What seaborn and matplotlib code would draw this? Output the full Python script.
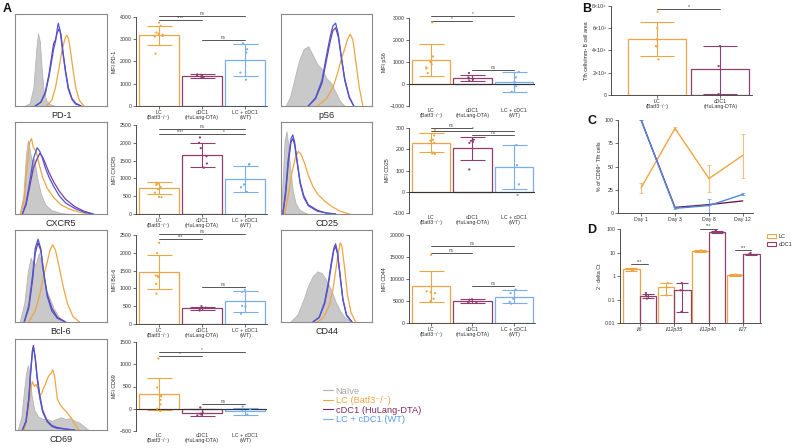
import numpy as np
import pandas as pd
import matplotlib
matplotlib.use("Agg")
import matplotlib.pyplot as plt
import seaborn as sns
from matplotlib.lines import Line2D
from matplotlib.patches import Patch

sns.set_theme(style="ticks")
plt.rcParams['font.family'] = ['Liberation Sans', 'DejaVu Sans']
plt.rcParams['mathtext.fontset'] = 'custom'
plt.rcParams['mathtext.rm'] = 'Liberation Sans'
plt.rcParams['mathtext.it'] = 'Liberation Sans:italic'

# ---------------- data ----------------
groups = ["LC", "cDC1", "WT"]
group_labels = ["LC\n(Batf3⁻/⁻)", "cDC1\n(HuLang-DTA)", "LC + cDC1\n(WT)"]
legend_labels = ["Naïve", "LC (Batf3⁻/⁻)", "cDC1 (HuLang-DTA)", "LC + cDC1 (WT)"]

# PD-1
pd1_mean = [3170, 1350, 2080]
pd1_lo = [2760, 1270, 1360]
pd1_hi = [3580, 1430, 2790]
pd1_lc = [3750, 3600, 3300, 3250, 3200, 3150, 3120, 2350]
pd1_cdc1 = [1420, 1400, 1380, 1300, 1270]
pd1_wt = [2820, 2550, 2400, 1500, 1180]
pd1_sig = [(0, 2, 4050, "ns"), (0, 1, 3850, "****"), (1, 2, 2950, "ns")]

# CXCR5
cxcr5_mean = [720, 1660, 980]
cxcr5_lo = [555, 1310, 610]
cxcr5_hi = [885, 2000, 1360]
cxcr5_lc = [880, 850, 820, 760, 700, 600, 480, 470]
cxcr5_cdc1 = [2150, 2000, 1850, 1620, 1420, 1300]
cxcr5_wt = [1400, 1390, 830, 750, 620]
cxcr5_sig = [(0, 2, 2380, "ns"), (0, 1, 2250, "****"), (1, 2, 2250, "*")]

# Bcl-6
bcl6_mean = [1450, 440, 640]
bcl6_lo = [990, 390, 340]
bcl6_hi = [1930, 490, 930]
bcl6_lc = [2280, 1990, 1360, 1350, 1320, 1130, 850]
bcl6_cdc1 = [500, 460, 440, 420, 380]
bcl6_wt = [960, 900, 510, 490, 290]
bcl6_sig = [(0, 2, 2520, "ns"), (0, 1, 2400, "***"), (1, 2, 1040, "ns")]

# CD69
cd69_mean = [330, -100, -60]
cd69_lo = [-30, -160, -130]
cd69_hi = [690, -10, 10]
cd69_lc = [1130, 480, 300, 280, 200, 100, 0, -50]
cd69_cdc1 = [30, -80, -110, -130, -150]
cd69_wt = [50, -10, -50, -130]
cd69_sig = [(0, 2, 1275, "*"), (0, 1, 1190, "*"), (1, 2, 100, "ns")]

# pS6
ps6_mean = [1080, 280, 80]
ps6_lo = [350, 120, -380]
ps6_hi = [1800, 420, 550]
ps6_lc = [2800, 1250, 1000, 900, 750, 700, 500]
ps6_cdc1 = [500, 300, 250, 200, 150]
ps6_wt = [550, 300, 100, -100, -350]
ps6_sig = [(0, 2, 3090, "*"), (0, 1, 2880, "*"), (1, 2, 640, "ns")]

# CD25
cd25_mean = [230, 205, 115]
cd25_lo = [185, 148, 12]
cd25_hi = [275, 260, 222]
cd25_lc = [290, 265, 245, 240, 230, 185, 180, 178]
cd25_cdc1 = [245, 240, 235, 230, 105]
cd25_wt = [220, 125, 35, -15]
cd25_sig = [(0, 1, 300, "ns"), (0, 2, 286, "*"), (1, 2, 267, "ns")]

# CD44
cd44_mean = [8300, 5000, 6000]
cd44_lo = [4800, 4500, 4500]
cd44_hi = [11800, 5500, 7500]
cd44_lc = [15500, 7200, 7000, 6800, 5500, 5000]
cd44_cdc1 = [5400, 5300, 4900, 4700, 4600]
cd44_wt = [7600, 6800, 5500, 4800, 4400]
cd44_sig = [(0, 2, 17500, "ns"), (0, 1, 16000, "ns"), (1, 2, 8400, "ns")]

# histogram curves (x: fluorescence units 0-100, y: % of max)
pd1_naive = ([10, 16, 20, 23, 25, 27, 29, 31, 34, 38, 44], [0, 3, 20, 60, 79, 70, 40, 18, 6, 2, 0])
pd1_h_lc = ([34, 40, 44, 48, 51, 54, 56, 58, 60, 63, 66, 70, 75], [0, 6, 20, 42, 60, 72, 77, 74, 62, 40, 20, 6, 0])
pd1_h_cdc1 = ([22, 28, 33, 37, 40, 42, 44, 46, 48, 50, 52, 55, 58, 62, 66, 72], [0, 4, 15, 35, 55, 68, 72, 80, 84, 78, 60, 38, 20, 8, 3, 0])
pd1_h_wt = ([22, 28, 33, 37, 40, 42, 44, 46, 47, 49, 52, 55, 58, 62, 66, 72], [0, 4, 14, 32, 50, 62, 70, 84, 90, 82, 58, 36, 18, 7, 2, 0])

cxcr5_naive = ([5, 9, 12, 14, 16, 18, 21, 24, 28, 33, 40, 50, 60], [0, 20, 65, 80, 70, 58, 60, 40, 22, 10, 4, 1, 0])
cxcr5_h_lc = ([6, 10, 13, 16, 18, 20, 23, 26, 30, 35, 42, 50, 60, 70, 80], [0, 15, 50, 78, 82, 72, 68, 55, 40, 28, 18, 10, 5, 2, 0])
cxcr5_h_cdc1 = ([8, 12, 16, 20, 24, 27, 30, 33, 37, 42, 48, 55, 65, 75, 85], [0, 10, 30, 50, 60, 66, 62, 55, 45, 35, 25, 16, 8, 3, 0])
cxcr5_h_wt = ([8, 12, 16, 20, 24, 27, 30, 33, 37, 42, 48, 55, 65, 75, 85], [0, 12, 35, 60, 72, 68, 60, 50, 40, 30, 20, 12, 6, 2, 0])

bcl6_naive = ([5, 10, 14, 17, 20, 23, 26, 30, 34, 38, 42, 48, 55], [0, 20, 55, 70, 60, 65, 75, 55, 35, 25, 15, 5, 0])
bcl6_h_lc = ([15, 22, 27, 31, 35, 38, 41, 44, 48, 52, 57, 63, 70], [0, 12, 30, 50, 65, 78, 84, 78, 60, 40, 20, 6, 0])
bcl6_h_cdc1 = ([10, 15, 19, 22, 25, 28, 31, 35, 40, 46, 55], [0, 15, 45, 75, 86, 78, 55, 30, 15, 5, 0])
bcl6_h_wt = ([10, 15, 19, 22, 25, 28, 31, 35, 40, 46, 55], [0, 18, 50, 80, 90, 80, 55, 28, 12, 4, 0])

cd69_naive = ([3, 7, 10, 12, 14, 16, 18, 21, 25, 30, 35, 40, 45, 50, 55, 60, 65, 70, 75, 80],
              [0, 15, 45, 62, 71, 60, 38, 22, 15, 12, 12, 10, 12, 14, 12, 13, 10, 8, 4, 0])
cd69_h_lc = ([10, 14, 17, 19, 21, 23, 25, 27, 29, 31, 33, 35, 37, 39, 41, 43, 46, 49, 52, 56, 62, 66, 70],
             [0, 20, 45, 53, 48, 50, 45, 38, 40, 46, 50, 56, 60, 62, 66, 60, 34, 28, 24, 20, 12, 5, 0])
cd69_h_cdc1 = ([8, 12, 15, 17, 19, 20, 22, 24, 27, 30, 35, 40, 45, 55, 65], [0, 10, 35, 65, 88, 93, 80, 60, 38, 22, 10, 5, 3, 1, 0])
cd69_h_wt = ([8, 12, 15, 17, 19, 20, 22, 24, 27, 30, 35, 40, 45, 55, 65], [0, 9, 33, 62, 86, 91, 78, 57, 35, 20, 9, 4, 2, 1, 0])

ps6_naive = ([5, 10, 15, 20, 25, 30, 35, 40, 45, 50, 55, 60, 65, 70], [0, 10, 30, 50, 62, 65, 55, 45, 40, 30, 25, 15, 5, 0])
ps6_h_lc = ([40, 50, 57, 62, 66, 70, 73, 76, 79, 82, 86, 90], [0, 8, 20, 35, 50, 62, 72, 78, 72, 50, 20, 0])
ps6_h_cdc1 = ([30, 38, 45, 50, 54, 57, 60, 63, 66, 70, 75, 80], [0, 8, 25, 50, 70, 82, 85, 75, 55, 30, 10, 0])
ps6_h_wt = ([30, 38, 45, 50, 54, 57, 60, 63, 66, 70, 75, 80], [0, 9, 28, 55, 75, 87, 90, 78, 55, 28, 9, 0])

cd25_naive = ([0, 2, 4, 6, 8, 10, 13, 16, 20, 25, 30], [0, 40, 80, 90, 75, 50, 25, 12, 5, 2, 0])
cd25_h_lc = ([4, 8, 12, 16, 19, 22, 26, 30, 35, 40, 48, 56, 65, 75], [0, 20, 45, 62, 68, 65, 55, 42, 30, 22, 14, 8, 3, 0])
cd25_h_cdc1 = ([2, 5, 8, 11, 13, 15, 18, 21, 25, 30, 40, 50, 60], [0, 20, 55, 78, 82, 75, 55, 35, 20, 10, 4, 1, 0])
cd25_h_wt = ([2, 5, 8, 11, 13, 15, 18, 21, 25, 30, 40, 50, 60], [0, 25, 60, 82, 86, 78, 55, 33, 18, 9, 3, 1, 0])

cd44_naive = ([10, 18, 25, 30, 35, 40, 45, 50, 55, 60, 65, 70, 78], [0, 8, 25, 40, 50, 55, 53, 45, 35, 22, 12, 5, 0])
cd44_h_lc = ([40, 47, 53, 57, 60, 63, 65, 67, 70, 73, 77, 82], [0, 5, 18, 35, 55, 75, 86, 82, 58, 30, 10, 0])
cd44_h_cdc1 = ([35, 42, 48, 52, 55, 58, 60, 62, 65, 68, 72, 78], [0, 5, 20, 40, 60, 78, 82, 75, 50, 25, 8, 0])
cd44_h_wt = ([35, 42, 48, 52, 55, 58, 60, 62, 65, 68, 72, 78], [0, 5, 22, 43, 63, 80, 85, 76, 50, 24, 7, 0])

# Panel B
b_groups = ["LC", "cDC1"]
b_labels = ["LC\n(Batf3⁻/⁻)", "cDC1\n(HuLang-DTA)"]
b_mean = [50500, 23000]
b_lo = [35500, 800]
b_hi = [65500, 44000]
b_lc = [75000, 60000, 50000, 44000, 43500, 32000]
b_cdc1 = [44000, 26000, 600, 500]
b_yticks = [0, 20000, 40000, 60000, 80000]
b_yticklabels = ["0", "2×10⁴", "4×10⁴", "6×10⁴", "8×10⁴"]

# Panel C
c_days = ["Day 1", "Day 3", "Day 8", "Day 12"]
c_lc = [27, 91, 37, 62]
c_lc_lo = [22, 89, 23, 38]
c_lc_hi = [32, 93, 52, 85]
c_cdc1 = [100, 6, 9, 13]
c_wt = [100, 5, 8, 20]
c_wt_lo = [100, 4, 0, 19]
c_wt_hi = [100, 6, 15, 21]

# Panel D
d_genes = ["Il6", "Il12p35", "Il12p40", "Il27"]
d_lc = [1.9, 0.33, 11.5, 1.1]
d_lc_lo = [1.7, 0.15, 10.8, 1.02]
d_lc_hi = [2.1, 0.5, 12.3, 1.18]
d_cdc1 = [0.14, 0.25, 75, 8.5]
d_cdc1_lo = [0.12, 0.03, 70, 8.0]
d_cdc1_hi = [0.17, 0.5, 82, 9.0]
d_lc_pts = [[2.0, 1.85, 1.75], [0.5, 0.33, 0.15], [12.3, 11.4, 10.9], [1.15, 1.1, 1.05]]
d_cdc1_pts = [[0.19, 0.15, 0.11], [0.5, 0.25, 0.03], [85, 78, 70], [9.6, 8.6, 8.0]]
d_sig = [(0, 3.3, "***"), (2, 105, "***"), (3, 13, "***")]

# ---------------- style ----------------
ORANGE = "#EFA543"
PURPLE = "#7D2A5C"
BLUE = "#7AAEEB"
H_PURPLE = "#7A3C96"
H_BLUE = "#4A58D8"
GRAY_FILL = "#C9C9C9"
bar_pal = [ORANGE, "#8E3F6E", BLUE]
SPINE = "#333333"
TFS = 3.8

W, H = 798, 448
fig = plt.figure(figsize=(W / 100, H / 100), dpi=100)


def ax_px(x0, y0, x1, y1):
    return fig.add_axes([x0 / W, 1 - y1 / H, (x1 - x0) / W, (y1 - y0) / H])


def style_axes(ax):
    sns.despine(ax=ax)
    for s in ("left", "bottom"):
        ax.spines[s].set_color(SPINE)
        ax.spines[s].set_linewidth(0.6)
    ax.tick_params(axis="both", labelsize=TFS, length=2, width=0.5, pad=1.2, colors=SPINE)


def hist_panel(rect, naive, lc, cdc1, wt, label):
    ax = ax_px(*rect)
    ax.fill_between(naive[0], naive[1], color=GRAY_FILL, lw=0.6, edgecolor="#B5B5B5")
    for (xs, ys), col in [(lc, ORANGE), (cdc1, H_PURPLE), (wt, H_BLUE)]:
        sns.lineplot(x=xs, y=ys, color=col, lw=0.9, ax=ax, sort=False)
    ax.set_xlim(0, 100)
    ax.set_ylim(0, 100)
    ax.set_xticks([])
    ax.set_yticks([])
    ax.set_xlabel("")
    ax.set_ylabel("")
    for s in ax.spines.values():
        s.set_color("#8A8A8A")
        s.set_linewidth(0.8)
    ax.text(0.5, -0.05, label, transform=ax.transAxes, ha="center", va="top", fontsize=6.5, color="#222222")


def bar_panel(rect, mean, lo, hi, lc, cdc1, wt, sig, ylim, yticks, ylabel, zero=False):
    ax = ax_px(*rect)
    df = pd.DataFrame({"g": groups, "v": mean})
    sns.barplot(data=df, x="g", y="v", hue="g", palette=bar_pal, fill=False, width=0.92,
                linewidth=0.9, ax=ax, legend=False, order=groups, errorbar=None)
    for i, (m, l, h) in enumerate(zip(mean, lo, hi)):
        ax.errorbar(i, m, yerr=[[m - l], [h - m]], color=bar_pal[i], capsize=9, lw=0.8, capthick=0.8)
    pts = pd.DataFrame({"g": ["LC"] * len(lc) + ["cDC1"] * len(cdc1) + ["WT"] * len(wt),
                        "v": list(lc) + list(cdc1) + list(wt)})
    sns.stripplot(data=pts, x="g", y="v", hue="g", palette=bar_pal, order=groups, size=1.6,
                  jitter=0.12, ax=ax, legend=False, linewidth=0)
    for i, j, y, lab in sig:
        ax.plot([i, j], [y, y], color="#555555", lw=0.7, clip_on=False)
        ax.text((i + j) / 2, y, lab, ha="center", va="bottom", fontsize=3.3, color="#444444")
    ax.set_xlim(-0.52, 2.5)
    ax.set_ylim(*ylim)
    ax.set_yticks(yticks)
    ax.set_xticks(range(3))
    ax.set_xticklabels(group_labels, linespacing=1.0)
    ax.set_xlabel("")
    ax.set_ylabel(ylabel, fontsize=TFS, labelpad=2)
    style_axes(ax)
    if zero:
        ax.axhline(0, color=SPINE, lw=0.8)
        ax.spines["bottom"].set_visible(False)
        ax.tick_params(axis="x", length=0)
    return ax


np.random.seed(3)

# histograms
HX1 = (15, 107)
HX2 = (281, 372)
hist_panel((HX1[0], 14, HX1[1], 106), pd1_naive, pd1_h_lc, pd1_h_cdc1, pd1_h_wt, "PD-1")
hist_panel((HX1[0], 122, HX1[1], 214), cxcr5_naive, cxcr5_h_lc, cxcr5_h_cdc1, cxcr5_h_wt, "CXCR5")
hist_panel((HX1[0], 230, HX1[1], 322), bcl6_naive, bcl6_h_lc, bcl6_h_cdc1, bcl6_h_wt, "Bcl-6")
hist_panel((HX1[0], 339, HX1[1], 430), cd69_naive, cd69_h_lc, cd69_h_cdc1, cd69_h_wt, "CD69")
hist_panel((HX2[0], 14, HX2[1], 106), ps6_naive, ps6_h_lc, ps6_h_cdc1, ps6_h_wt, "pS6")
hist_panel((HX2[0], 122, HX2[1], 214), cd25_naive, cd25_h_lc, cd25_h_cdc1, cd25_h_wt, "CD25")
hist_panel((HX2[0], 230, HX2[1], 322), cd44_naive, cd44_h_lc, cd44_h_cdc1, cd44_h_wt, "CD44")

# bar charts
bar_panel((136, 17, 267, 106), pd1_mean, pd1_lo, pd1_hi, pd1_lc, pd1_cdc1, pd1_wt, pd1_sig,
          (0, 4000), [0, 1000, 2000, 3000, 4000], "MFI PD-1")
bar_panel((136, 125, 267, 214), cxcr5_mean, cxcr5_lo, cxcr5_hi, cxcr5_lc, cxcr5_cdc1, cxcr5_wt, cxcr5_sig,
          (0, 2500), [0, 500, 1000, 1500, 2000, 2500], "MFI CXCR5")
bar_panel((136, 235, 267, 324), bcl6_mean, bcl6_lo, bcl6_hi, bcl6_lc, bcl6_cdc1, bcl6_wt, bcl6_sig,
          (0, 2500), [0, 500, 1000, 1500, 2000, 2500], "MFI Bcl-6")
bar_panel((136, 342, 267, 431), cd69_mean, cd69_lo, cd69_hi, cd69_lc, cd69_cdc1, cd69_wt, cd69_sig,
          (-500, 1500), [-500, 0, 500, 1000, 1500], "MFI CD69", zero=True)
bar_panel((409, 18, 535, 106), ps6_mean, ps6_lo, ps6_hi, ps6_lc, ps6_cdc1, ps6_wt, ps6_sig,
          (-1000, 3000), [-1000, 0, 1000, 2000, 3000], "MFI pS6", zero=True)
bar_panel((409, 128, 535, 213), cd25_mean, cd25_lo, cd25_hi, cd25_lc, cd25_cdc1, cd25_wt, cd25_sig,
          (-100, 300), [-100, 0, 100, 200, 300], "MFI CD25", zero=True)
bar_panel((409, 235, 535, 323), cd44_mean, cd44_lo, cd44_hi, cd44_lc, cd44_cdc1, cd44_wt, cd44_sig,
          (0, 20000), [0, 5000, 10000, 15000, 20000], "MFI CD44")

# Panel B
axb = ax_px(611, 6, 752, 95)
b_pal = [ORANGE, "#8E3F6E"]
sns.barplot(x=b_groups, y=b_mean, hue=b_groups, palette=b_pal, fill=False, width=0.92, linewidth=0.9,
            ax=axb, legend=False, errorbar=None)
for i, (m, l, h) in enumerate(zip(b_mean, b_lo, b_hi)):
    axb.errorbar(i, m, yerr=[[m - l], [h - m]], color=b_pal[i], capsize=12, lw=0.8, capthick=0.8)
bpts = pd.DataFrame({"g": ["LC"] * len(b_lc) + ["cDC1"] * len(b_cdc1), "v": b_lc + b_cdc1})
sns.stripplot(data=bpts, x="g", y="v", hue="g", palette=b_pal, order=b_groups, size=1.6, jitter=0.03,
              ax=axb, legend=False, linewidth=0)
axb.plot([0, 1], [77000, 77000], color="#555555", lw=0.7, clip_on=False)
axb.text(0.5, 77000, "*", ha="center", va="bottom", fontsize=4, color="#444444")
axb.set_xlim(-0.72, 1.5)
axb.set_ylim(0, 80000)
axb.set_yticks(b_yticks)
axb.set_yticklabels(b_yticklabels)
axb.set_xticks([0, 1])
axb.set_xticklabels(b_labels, linespacing=1.0)
axb.set_xlabel("")
axb.set_ylabel("Tfh cells/mm² B cell area", fontsize=TFS, labelpad=2)
style_axes(axb)

# Panel C
axc = ax_px(618, 120, 753, 213)
xc = list(range(len(c_days)))
sns.lineplot(x=xc, y=c_lc, color=ORANGE, lw=1.0, ax=axc)
sns.lineplot(x=xc, y=c_cdc1, color="#6B1F4F", lw=1.0, ax=axc)
sns.lineplot(x=xc, y=c_wt, color="#4F86E0", lw=1.0, ax=axc)
axc.errorbar(xc, c_lc, yerr=[np.subtract(c_lc, c_lc_lo), np.subtract(c_lc_hi, c_lc)], fmt="none",
             ecolor=ORANGE, elinewidth=0.8, capsize=1.5, capthick=0.6, alpha=0.7)
axc.errorbar(xc, c_wt, yerr=[np.subtract(c_wt, c_wt_lo), np.subtract(c_wt_hi, c_wt)], fmt="none",
             ecolor="#4F86E0", elinewidth=0.8, capsize=1.5, capthick=0.6, alpha=0.7)
axc.set_xlim(-0.68, 3.3)
axc.set_ylim(0, 100)
axc.set_yticks([0, 25, 50, 75, 100])
axc.set_xticks(xc)
axc.set_xticklabels(c_days)
axc.set_ylabel("% of CD69⁺ Tfh cells", fontsize=TFS, labelpad=2)
style_axes(axc)

# Panel D
axd = ax_px(620, 229, 761, 323)
ddf = pd.DataFrame({"gene": d_genes * 2, "grp": ["LC"] * 4 + ["cDC1"] * 4, "v": d_lc + d_cdc1})
d_pal = {"LC": ORANGE, "cDC1": "#8E3F6E"}
sns.barplot(data=ddf, x="gene", y="v", hue="grp", palette=d_pal, fill=False, width=0.96, linewidth=0.9,
            ax=axd, legend=False, errorbar=None, order=d_genes, hue_order=["LC", "cDC1"])
axd.set_yscale("log")
off = 0.24
for i in range(4):
    for sgn, m, l, h, col in [(-1, d_lc[i], d_lc_lo[i], d_lc_hi[i], ORANGE),
                              (1, d_cdc1[i], d_cdc1_lo[i], d_cdc1_hi[i], "#8E3F6E")]:
        axd.errorbar(i + sgn * off, m, yerr=[[m - l], [h - m]], color=col, capsize=4, lw=0.8, capthick=0.8)
dpts = pd.DataFrame({
    "gene": [g for g, p in zip(d_genes, d_lc_pts) for _ in p] + [g for g, p in zip(d_genes, d_cdc1_pts) for _ in p],
    "grp": ["LC"] * sum(len(p) for p in d_lc_pts) + ["cDC1"] * sum(len(p) for p in d_cdc1_pts),
    "v": [v for p in d_lc_pts for v in p] + [v for p in d_cdc1_pts for v in p]})
sns.stripplot(data=dpts, x="gene", y="v", hue="grp", palette=d_pal, order=d_genes, hue_order=["LC", "cDC1"],
              dodge=True, size=1.6, jitter=0.05, ax=axd, legend=False, linewidth=0)
for i, y, lab in d_sig:
    axd.plot([i - off, i + off], [y, y], color="#555555", lw=0.7, clip_on=False)
    axd.text(i, y, lab, ha="center", va="bottom", fontsize=3.3, color="#444444")
axd.set_ylim(0.01, 100)
axd.set_yticks([0.01, 0.1, 1, 10, 100])
axd.set_yticklabels(["0.01", "0.1", "1", "10", "100"])
axd.minorticks_off()
axd.set_xlim(-0.57, 3.52)
axd.set_xticks(range(4))
axd.set_xticklabels(d_genes, fontstyle="italic")
axd.set_xlabel("")
axd.set_ylabel("2⁻ delta Ct", fontsize=TFS, labelpad=2)
style_axes(axd)
fig.legend(handles=[Patch(facecolor="white", edgecolor=ORANGE, lw=0.8, label="LC"),
                    Patch(facecolor="white", edgecolor="#8E3F6E", lw=0.8, label="cDC1")],
           loc="upper left", bbox_to_anchor=(764 / W, 1 - 231 / H), frameon=False, fontsize=4,
           handlelength=1.6, handleheight=0.6, handletextpad=0.5, labelspacing=0.6, borderpad=0)

# Panel A legend
fig.legend(handles=[Line2D([0], [0], color=c, lw=0.8) for c in ["#B0B0B0", ORANGE, PURPLE, BLUE]],
           labels=legend_labels, loc="upper left", bbox_to_anchor=(318 / W, 1 - 382 / H), frameon=False,
           fontsize=6.7, handlelength=1.1, handletextpad=0.3, labelspacing=0.05, borderpad=0,
           labelcolor=["#A5A5A5", ORANGE, PURPLE, "#5B9BE8"])

# panel letters
for txt, x, y in [("A", 3, 12), ("B", 582, 12), ("C", 587, 124), ("D", 587, 233)]:
    fig.text(x / W, 1 - y / H, txt, fontsize=9, fontweight="bold", ha="left", va="baseline", color="#111111")

fig.savefig("out.png", dpi=100, facecolor="white")
